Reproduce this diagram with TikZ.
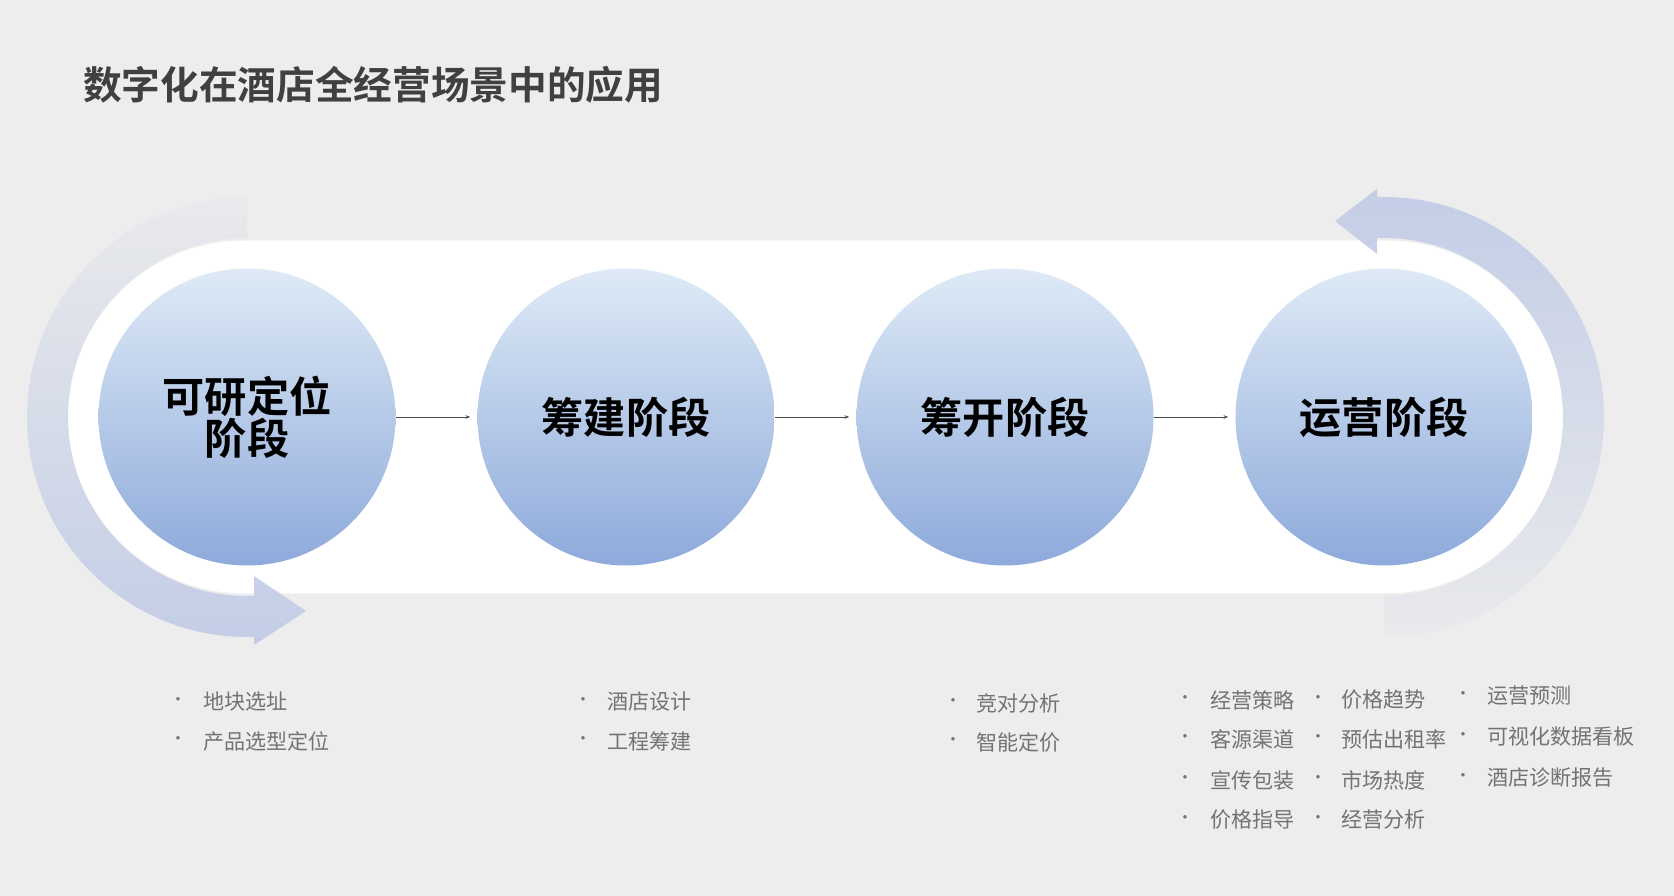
\documentclass[tikz,border=0pt]{standalone}
\usepackage{fontspec}
\setmainfont{Noto Sans CJK SC}
\newfontfamily\cjkb{Noto Sans CJK SC Bold}
\usetikzlibrary{arrows.meta}
\definecolor{bg}{HTML}{EDEDED}
\definecolor{ringc}{HTML}{C3CDE6}
\definecolor{ctop}{HTML}{DEEAF6}
\definecolor{cbot}{HTML}{8EAADB}
\begin{document}
\begin{tikzpicture}[x=0.03cm,y=0.03cm,
  stage/.style={circle,minimum size=297*0.03cm,inner sep=0pt,top color=ctop,bottom color=cbot,
    font=\cjkb\fontsize{36}{42}\selectfont,align=center,text=black},
  conn/.style={draw=black!70,line width=0.8pt,-{Stealth[length=4pt,width=3pt]},shorten >=6pt},
  item/.style={anchor=west,text=black!55,font=\fontsize{18}{20}\selectfont,inner sep=0pt},
  dot/.style={anchor=center,text=black!55,font=\fontsize{14}{16}\selectfont,inner sep=0pt}]
\fill[bg] (0,0) rectangle (1674,896);
\useasboundingbox (0,0) rectangle (1674,896);
\node[anchor=west,text=black!75,font=\cjkb\fontsize{33}{38}\selectfont,inner sep=0pt] (title) at (83,811) {数字化在酒店全经营场景中的应用};
% white band
\fill[white,rounded corners=176.5*0.03cm] (68,302.5) rectangle (1563,655.5);
% rings
\shade[top color=bg!90!ringc,bottom color=ringc] (247,699) arc (90:270:220) -- (254,259) -- (254,251) -- (306,285) -- (254,320) -- (254,300) -- (247,300) arc (270:90:179) -- cycle;
\shade[top color=ringc,bottom color=bg!90!ringc] (1384,259) arc (-90:90:220) -- (1377,699) -- (1377,707) -- (1335,675) -- (1377,642) -- (1377,658) -- (1384,658) arc (90:-90:179) -- cycle;
% circles
\node[stage] (s1) at (247,479) {可研定位\\[-6pt]阶段};
\node[stage] (s2) at (626,479) {筹建阶段};
\node[stage] (s3) at (1005,479) {筹开阶段};
\node[stage] (s4) at (1384,479) {运营阶段};
\draw[conn] (s1) -- (s2);
\draw[conn] (s2) -- (s3);
\draw[conn] (s3) -- (s4);
% lists
\foreach \bx/\tx/\yy/\t [count=\i] in {
 178/203/194/地块选址, 178/203/155/产品选型定位,
 583/607/194/酒店设计, 583/607/155/工程筹建,
 953/976/193/竞对分析, 953/976/154/智能定价,
 1185/1210/196/经营策略, 1185/1210/157/客源渠道, 1185/1210/116/宣传包装, 1185/1210/76/价格指导,
 1318/1341/196/价格趋势, 1318/1341/157/预估出租率, 1318/1341/116/市场热度, 1318/1341/76/经营分析,
 1463/1487/200/运营预测, 1463/1487/159/可视化数据看板, 1463/1487/118/酒店诊断报告}{
  \node[dot] (d\i) at (\bx,\yy) {·};
  \node[item] (t\i) at (\tx,\yy) {\t};
}
\end{tikzpicture}
\end{document}
